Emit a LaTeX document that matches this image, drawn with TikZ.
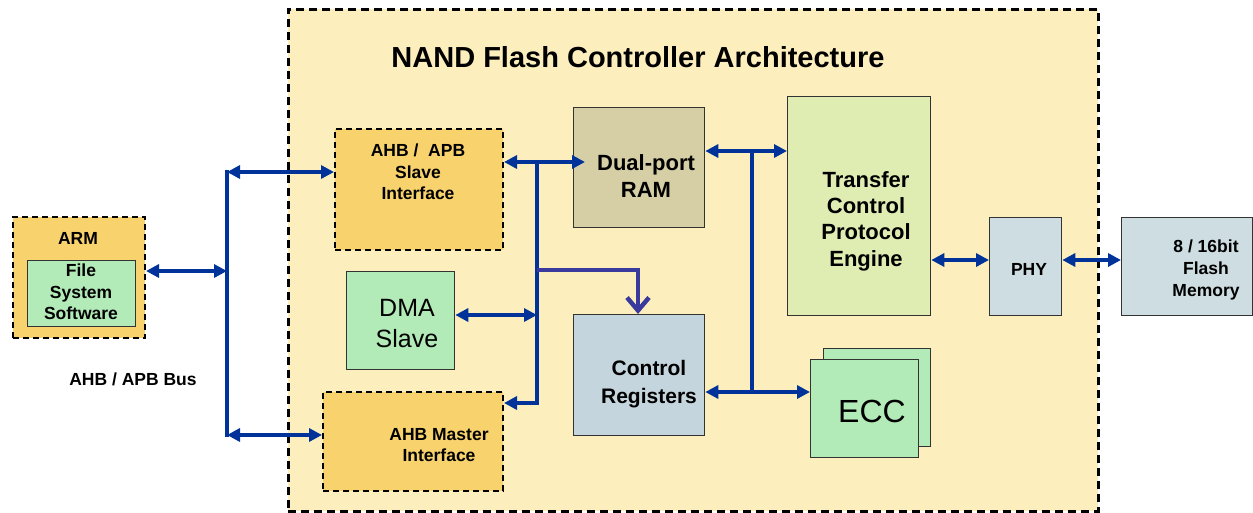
\documentclass[tikz,border=0pt]{standalone}
\usepackage{fontspec}
\setmainfont{Liberation Sans}
\usetikzlibrary{arrows.meta,calc}
\definecolor{contfill}{HTML}{FDEFBD}
\definecolor{orangefill}{HTML}{F8D26C}
\definecolor{greenfill}{HTML}{B3EBB8}
\definecolor{ramfill}{HTML}{D6CEA5}
\definecolor{tcpefill}{HTML}{DFECB2}
\definecolor{cregfill}{HTML}{C5D5DD}
\definecolor{phyfill}{HTML}{CEDDE1}
\definecolor{busblue}{HTML}{003399}
\definecolor{purpleline}{HTML}{3A3A9E}
\definecolor{edge}{HTML}{333333}
\tikzset{
  box/.style={draw=edge, line width=1.3pt, anchor=north west, inner sep=0pt},
  dbox/.style={draw=black, line width=2pt, dash pattern=on 6pt off 4pt, anchor=north west, inner sep=0pt},
  lbl/.style={align=center, inner sep=0pt, font=\fontsize{17.5}{21.5}\selectfont\bfseries},
  biglbl/.style={align=center, inner sep=0pt, font=\fontsize{22}{26.3}\selectfont\bfseries},
  tip/.tip={Triangle[length=13pt,width=13pt]},
  barrow/.style={draw=busblue, line width=4pt, tip-tip},
  sarrow/.style={draw=busblue, line width=4pt, -tip},
  bline/.style={draw=busblue, line width=4pt},
  parrow/.style={draw=purpleline, line width=4pt, -{Straight Barb[length=13pt,width=22pt,line width=4.5pt]}},
}
\begin{document}
\begin{tikzpicture}[x=1pt,y=-1pt]
\useasboundingbox (0,0) rectangle (1253,512);
% container
\node[dbox, fill=contfill, line width=2.5pt, dash pattern=on 8pt off 5pt, minimum width=810pt, minimum height=502pt] (cont) at (287,8) {};
\node[font=\fontsize{29}{34}\selectfont\bfseries, inner sep=0pt] (title) at (638,57) {NAND Flash Controller Architecture};
% ARM
\node[dbox, fill=orangefill, minimum width=132pt, minimum height=121pt] (arm) at (12,216) {};
\node[lbl] (armt) at (78,238) {ARM};
\node[box, fill=greenfill, minimum width=108pt, minimum height=66pt] (fss) at (27,260) {};
\node[lbl] (fsst) at (81,292) {File\\System\\Software};
\node[lbl] (bust) at (133,379) {AHB / APB Bus};
% left-side blocks
\node[dbox, fill=orangefill, minimum width=168pt, minimum height=121pt] (slave) at (334,128) {};
\node[lbl] (slavet) at (418,172) {AHB /\ \ APB\\Slave\\Interface};
\node[box, fill=greenfill, minimum width=108pt, minimum height=98pt] (dma) at (346,271) {};
\node[align=center, inner sep=0pt, font=\fontsize{25}{31}\selectfont] (dmat) at (407,324) {DMA\\Slave};
\node[dbox, fill=orangefill, minimum width=180pt, minimum height=99pt] (master) at (322,391) {};
\node[lbl] (mastert) at (439,445) {AHB Master\\Interface};
% middle
\node[box, fill=ramfill, minimum width=131pt, minimum height=120pt] (ram) at (573,107) {};
\node[biglbl] (ramt) at (646,176) {Dual-port\\RAM};
\node[box, fill=cregfill, minimum width=131pt, minimum height=121pt] (creg) at (573,314) {};
\node[biglbl, font=\fontsize{21}{28}\selectfont\bfseries] (cregt) at (649,384) {Control\\Registers};
% right
\node[box, fill=tcpefill, minimum width=143pt, minimum height=219pt] (tcpe) at (787,96) {};
\node[biglbl] (tcpet) at (866,221) {Transfer\\Control\\Protocol\\Engine};
\node[box, fill=greenfill, minimum width=107pt, minimum height=98pt] (eccb) at (823,348) {};
\node[box, fill=greenfill, minimum width=108pt, minimum height=98pt] (ecc) at (810,359) {};
\node[inner sep=0pt, font=\fontsize{32}{38}\selectfont] (ecct) at (872,411) {ECC};
\node[box, fill=phyfill, minimum width=72pt, minimum height=98pt] (phy) at (989,217) {};
\node[lbl] (phyt) at (1029,269) {PHY};
\node[box, fill=phyfill, minimum width=131pt, minimum height=98pt] (flash) at (1121,217) {};
\node[lbl, font=\fontsize{17.5}{22}\selectfont\bfseries] (flasht) at (1206,270) {8 / 16bit\\Flash\\Memory};
% bus coordinates
\coordinate (busT) at (227,172);
\coordinate (busM) at (227,271);
\coordinate (busB) at (227,435);
\coordinate (jA) at (537,162);
\coordinate (jD) at (537,315);
\coordinate (jM) at (537,403);
\coordinate (jP) at (537,270);
\coordinate (jR) at (752,151);
\coordinate (jE) at (752,392);
\coordinate (jC) at (638,0);
\coordinate (yPHY) at (0,260);
% connectors
\draw[bline] ($(busT)+(0,-2)$) -- ($(busB)+(0,2)$);
\draw[barrow] (busT) -- (slave.west |- busT);
\draw[barrow] (busB) -- (master.west |- busB);
\draw[barrow] (arm.east |- busM) -- (busM);
\draw[barrow] (slave.east |- jA) -- ($(ram.west |- jA)+(12,0)$);
\draw[bline] ($(jA)+(0,-2)$) -- ($(jM)+(0,2)$);
\draw[barrow] (dma.east |- jD) -- (jD);
\draw[sarrow] (jM) -- (master.east |- jM);
\draw[parrow] (jP) -| (jC |- creg.north);
\draw[barrow] (ram.east |- jR) -- (tcpe.west |- jR);
\draw[bline] ($(jR)+(0,-2)$) -- ($(jE)+(0,2)$);
\draw[barrow] (creg.east |- jE) -- (ecc.west |- jE);
\draw[barrow] (tcpe.east |- yPHY) -- (phy.west |- yPHY);
\draw[barrow] (phy.east |- yPHY) -- (flash.west |- yPHY);
\end{tikzpicture}
\end{document}
